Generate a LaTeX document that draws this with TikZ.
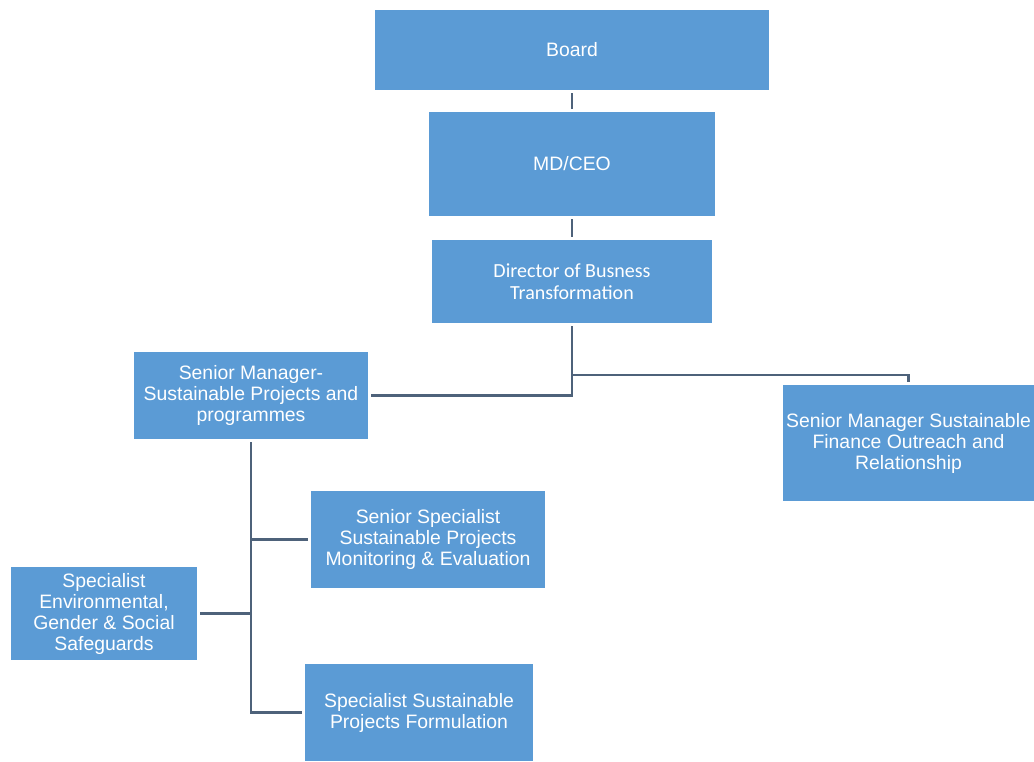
\documentclass[tikz,border=0pt]{standalone}
\usepackage{fontspec}
\setmainfont{Liberation Sans}
\newfontfamily\calibri{Carlito}
\usepackage{xcolor}
\usetikzlibrary{positioning}
\definecolor{boxblue}{RGB}{91,155,213}
\definecolor{linkgray}{RGB}{78,98,122}

\begin{document}
\begin{tikzpicture}[x=1pt,y=-1pt,
	post/.style={draw=none, fill=boxblue, text=white, align=center, inner sep=0pt,
		font=\fontsize{19.4}{21}\selectfont},
	link/.style={draw=linkgray, line width=2.4pt, shorten <=3pt, shorten >=3pt}]
				% canvas
				\useasboundingbox (0,0) rectangle (1034,761);
				% draw boxes
				\node[post, minimum width=394, minimum height=80] (board) at (572,50) {Board};
				\node[post, minimum width=286, minimum height=104] (ceo) at (572,164) {MD/CEO};
				\node[post, minimum width=280, minimum height=83, font=\calibri\fontsize{20}{22}\selectfont] (dir) at (572,281.5) {Director of Busness\\Transformation};
				\node[post, minimum width=234, minimum height=87] (smprog) at (251,395.5) {Senior Manager-\\Sustainable Projects and\\programmes};
				\node[post, minimum width=251, minimum height=116] (smfin) at (908.5,443) {Senior Manager Sustainable\\Finance Outreach and\\Relationship};
				\node[post, minimum width=234, minimum height=97] (ssme) at (428,539.5) {Senior Specialist\\Sustainable Projects\\Monitoring \& Evaluation};
				\node[post, minimum width=186, minimum height=93] (sgs) at (104,613.5) {Specialist\\Environmental,\\Gender \& Social\\Safeguards};
				\node[post, minimum width=228, minimum height=97] (ssform) at (419,712.5) {Specialist Sustainable\\Projects Formulation};
				
				% draw links
				\draw[link] (board) -- (ceo);
				\draw[link] (ceo) -- (dir);
				\draw[link] (dir.south) |- (smprog.east);
				\draw[link] (smfin.north) -- ++(0,-10) -| (dir.south);
				\draw[link] (smprog.south) |- (ssme.west);
				\draw[link] (smprog.south) |- (sgs.east);
				\draw[link] (smprog.south) |- (ssform.west);
			\end{tikzpicture}
\end{document}
